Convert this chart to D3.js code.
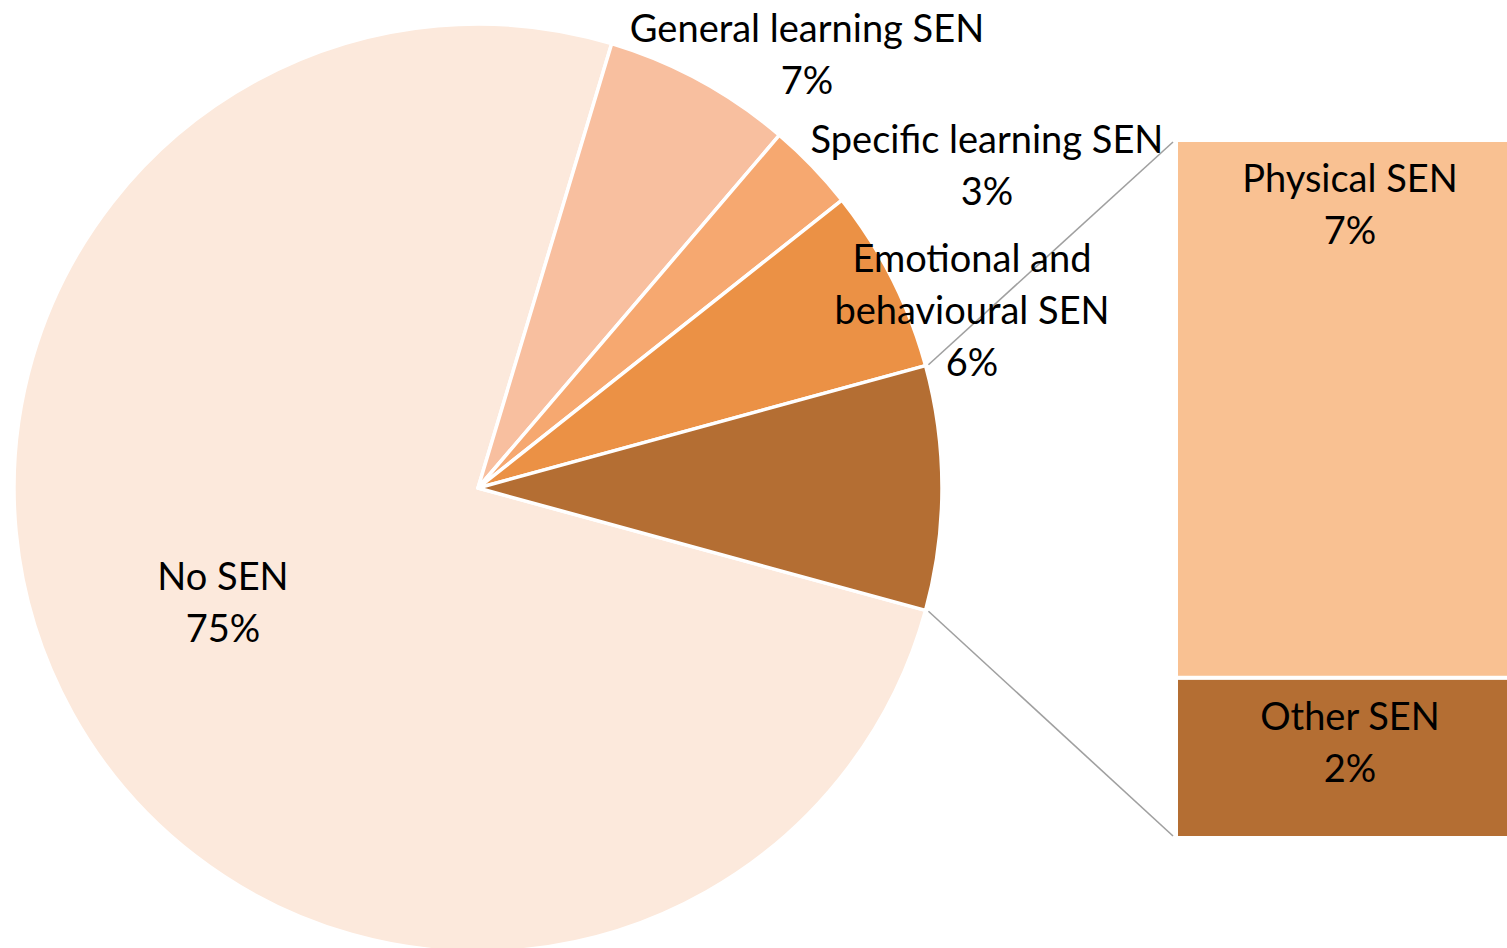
<!DOCTYPE html>
<html>
<head>
<meta charset="utf-8">
<script src="https://cdn.jsdelivr.net/npm/d3@7"></script>
<style>
  html, body { margin: 0; padding: 0; background: #ffffff; overflow: hidden; }
  svg { display: block; }
  text { font-family: Lato, "Open Sans", sans-serif; fill: #000; }
</style>
</head>
<body>
<svg id="chart" width="1507" height="948"></svg>
<script>
// ---- data ----
const pieCategories = ["No SEN", "General learning SEN", "Specific learning SEN", "Emotional and behavioural SEN"];
const pieValues     = [75.4, 6.6, 3.1, 6.4];
const barCategories = ["Physical SEN", "Other SEN"];
const barValues     = [6.55, 1.95];

// ---- styles / layout (not data) ----
const pieColors = ["#fce9dc", "#f8bf9f", "#f6a870", "#eb9145"];
const barColors = ["#f9c192", "#b46e33"];
const combinedColor = "#b46e33";
const labelLines = {
  "No SEN": ["No SEN"],
  "General learning SEN": ["General learning SEN"],
  "Specific learning SEN": ["Specific learning SEN"],
  "Emotional and behavioural SEN": ["Emotional and", "behavioural SEN"],
  "Physical SEN": ["Physical SEN"],
  "Other SEN": ["Other SEN"]
};
const pieLabelAnchors = {            // centre x, first baseline y
  "No SEN": [223, 590],
  "General learning SEN": [807, 42],
  "Specific learning SEN": [987, 153],
  "Emotional and behavioural SEN": [972, 272]
};
const fontSize = 38, lineH = 52;

const svg = d3.select("#chart");
const cx = 478, cy = 488, R = 464;

const total = d3.sum(pieValues) + d3.sum(barValues);
const combined = d3.sum(barValues);
const pctFmt = v => Math.round(v / total * 100) + "%";

// pie data: No SEN ... Emotional, then combined "other" slice
const pieData = pieCategories.map((c, i) => ({ name: c, value: pieValues[i], color: pieColors[i] }));
pieData.push({ name: "__combined", value: combined, color: combinedColor });

const combAngle = combined / total * 2 * Math.PI;
const pie = d3.pie().sort(null).value(d => d.value)
  .startAngle(Math.PI / 2 + combAngle / 2)
  .endAngle(Math.PI / 2 + combAngle / 2 + 2 * Math.PI);
const arcs = pie(pieData);
const arc = d3.arc().innerRadius(0).outerRadius(R);

const g = svg.append("g").attr("transform", `translate(${cx},${cy})`);
g.selectAll("path").data(arcs).join("path")
  .attr("d", arc)
  .attr("fill", d => d.data.color)
  .attr("stroke", "#ffffff")
  .attr("stroke-width", 3.5)
  .attr("stroke-linejoin", "round");

// ---- bar ----
const barX = 1178, barW = 344;
const y = d3.scaleLinear().domain([0, combined]).range([140, 838]);
let acc = 0;
const barData = barCategories.map((c, i) => {
  const d = { name: c, value: barValues[i], color: barColors[i], y0: acc, y1: acc + barValues[i] };
  acc += barValues[i];
  return d;
});
svg.append("g").selectAll("rect").data(barData).join("rect")
  .attr("x", barX - 2)
  .attr("width", barW + 4)
  .attr("y", d => y(d.y0))
  .attr("height", d => y(d.y1) - y(d.y0))
  .attr("fill", d => d.color)
  .attr("stroke", "#ffffff")
  .attr("stroke-width", 4);

// ---- connector lines ----
const comb = arcs[arcs.length - 1];
const pt = a => [cx + (R + 3) * Math.sin(a), cy - (R + 3) * Math.cos(a)];
const pTop = pt(comb.startAngle), pBot = pt(comb.endAngle);
const lines = [[pTop, [barX - 5, y(0) + 2]], [pBot, [barX - 5, y(combined) - 2]]];
svg.append("g").selectAll("line").data(lines).join("line")
  .attr("x1", d => d[0][0]).attr("y1", d => d[0][1])
  .attr("x2", d => d[1][0]).attr("y2", d => d[1][1])
  .attr("stroke", "#a0a0a0").attr("stroke-width", 1.6);

// ---- labels ----
function drawLabel(x0, y0, lines) {
  const t = svg.append("text").attr("text-anchor", "middle").attr("font-size", fontSize);
  lines.forEach((l, i) => t.append("tspan").attr("x", x0).attr("y", y0 + i * lineH).text(l));
}
arcs.slice(0, pieCategories.length).forEach(a => {
  const [lx, ly] = pieLabelAnchors[a.data.name];
  drawLabel(lx, ly, [...labelLines[a.data.name], pctFmt(a.data.value)]);
});
barData.forEach(d => {
  drawLabel(barX + barW / 2, y(d.y0) + 52, [...labelLines[d.name], pctFmt(d.value)]);
});
</script>
</body>
</html>
